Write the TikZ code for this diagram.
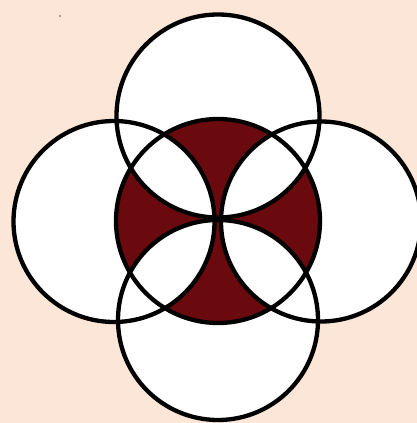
\documentclass[tikz,border=0pt]{standalone}
\definecolor{bgpeach}{HTML}{FCE6D8}
\definecolor{darkred}{HTML}{6B0A0E}
\begin{document}
\begin{tikzpicture}[x=1pt,y=-1pt,
  ring/.style={draw=black,line width=4.3pt}]
\fill[bgpeach] (0,0) rectangle (417,423);
\useasboundingbox (0,0) rectangle (417,423);
\fill[black!70] (60,16) circle (0.8);
\coordinate (C) at (218,221);
\coordinate (T) at (218,116);
\coordinate (B) at (218,320);
\coordinate (L) at (114,221.5);
\coordinate (R) at (321,221.5);
\def\rc{102}
\def\rt{101.5}
\def\rb{100}
\def\rl{100.5}
\def\rrt{100}
% outer discs
\fill[white] (T) circle (\rt);
\fill[white] (B) circle (\rb);
\fill[white] (L) circle (\rl);
\fill[white] (R) circle (\rrt);
% central disc
\fill[darkred] (C) circle (\rc);
% lens intersections of adjacent outer circles
\begin{scope}\clip (T) circle (\rt); \fill[white] (L) circle (\rl); \fill[white] (R) circle (\rrt);\end{scope}
\begin{scope}\clip (B) circle (\rb); \fill[white] (L) circle (\rl); \fill[white] (R) circle (\rrt);\end{scope}
% outlines
\draw[ring] (T) circle (\rt);
\draw[ring] (B) circle (\rb);
\draw[ring] (L) circle (\rl);
\draw[ring] (R) circle (\rrt);
\draw[ring] (C) circle (\rc);
\end{tikzpicture}
\end{document}
